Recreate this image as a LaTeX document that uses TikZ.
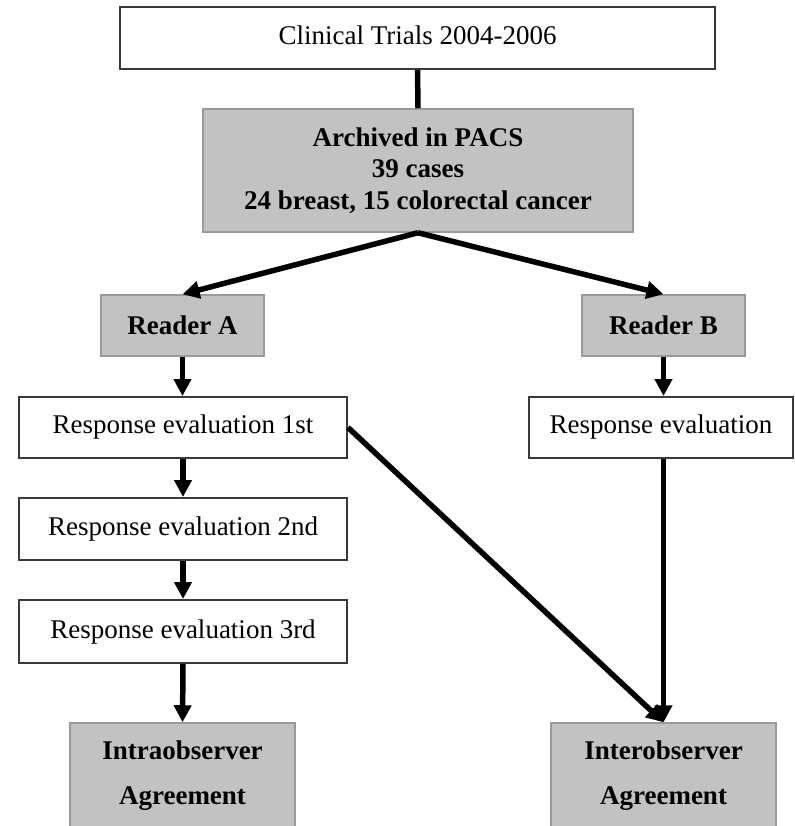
\documentclass[tikz,border=0pt]{standalone}
\usepackage{fontspec}
\setmainfont{Liberation Serif}
\usetikzlibrary{arrows.meta}
\definecolor{boxfill}{HTML}{C2C2C2}
\definecolor{boxline}{HTML}{3A3A3A}
\definecolor{grayline}{HTML}{9A9A9A}
\tikzset{
  whitebox/.style={draw=boxline, line width=2pt, fill=white, inner sep=0pt, align=center,
    font=\fontsize{27}{31.5}\selectfont},
  graybox/.style={draw=grayline, line width=1.5pt, fill=boxfill, inner sep=0pt, align=center,
    font=\fontsize{27}{31.5}\selectfont\bfseries},
  conn/.style={line width=5.5pt, black},
  arr/.style={conn, -{Triangle[length=17pt,width=17pt]}},
}
\begin{document}
\begin{tikzpicture}[x=1pt,y=-1pt]
\clip (0,0) rectangle (794,826);
\fill[white] (0,0) rectangle (794,826);
\node[whitebox, minimum width=595pt, minimum height=62pt] (top) at (417.5,38) {\raisebox{5pt}{Clinical Trials 2004-2006}};
\node[graybox, minimum width=430pt, minimum height=123pt] (arch) at (418,170.5)
  {Archived in PACS\\39 cases\\24 breast, 15 colorectal cancer};
\node[graybox, minimum width=163pt, minimum height=61pt] (ra) at (182.5,325.5) {Reader A};
\node[graybox, minimum width=163pt, minimum height=61pt] (rb) at (663.5,325.5) {Reader B};
\node[whitebox, minimum width=328pt, minimum height=61pt] (r1) at (183,427.5) {Response evaluation 1st};
\node[whitebox, minimum width=328pt, minimum height=62pt] (r2) at (183,529) {Response evaluation 2nd};
\node[whitebox, minimum width=328pt, minimum height=63pt] (r3) at (183,631.5) {Response evaluation 3rd};
\node[whitebox, minimum width=264pt, minimum height=61pt] (rbe) at (661,427.5) {Response evaluation};
\node[graybox, minimum width=225pt, minimum height=105pt, font=\fontsize{27}{45}\selectfont\bfseries] (intra) at (182.5,775.5) {Intraobserver\\Agreement};
\node[graybox, minimum width=225pt, minimum height=105pt, font=\fontsize{27}{45}\selectfont\bfseries] (inter) at (663.5,775.5) {Interobserver\\Agreement};
\coordinate (split) at (arch.south);
\draw[conn] (top.south) -- (arch.north);
\draw[arr] (split) -- (ra.north);
\draw[arr] (split) -- (rb.north);
\draw[arr] (ra.south) -- (ra.south |- r1.north);
\draw[arr] (rb.south) -- (rb.south |- rbe.north);
\draw[arr] (r1.south) -- (r2.north);
\draw[arr] (r2.south) -- (r3.north);
\draw[arr] (r3.south) -- (intra.north);
\draw[arr] (r1.east) -- (inter.north);
\draw[arr] (rb.south |- rbe.south) -- (inter.north);
\end{tikzpicture}
\end{document}
